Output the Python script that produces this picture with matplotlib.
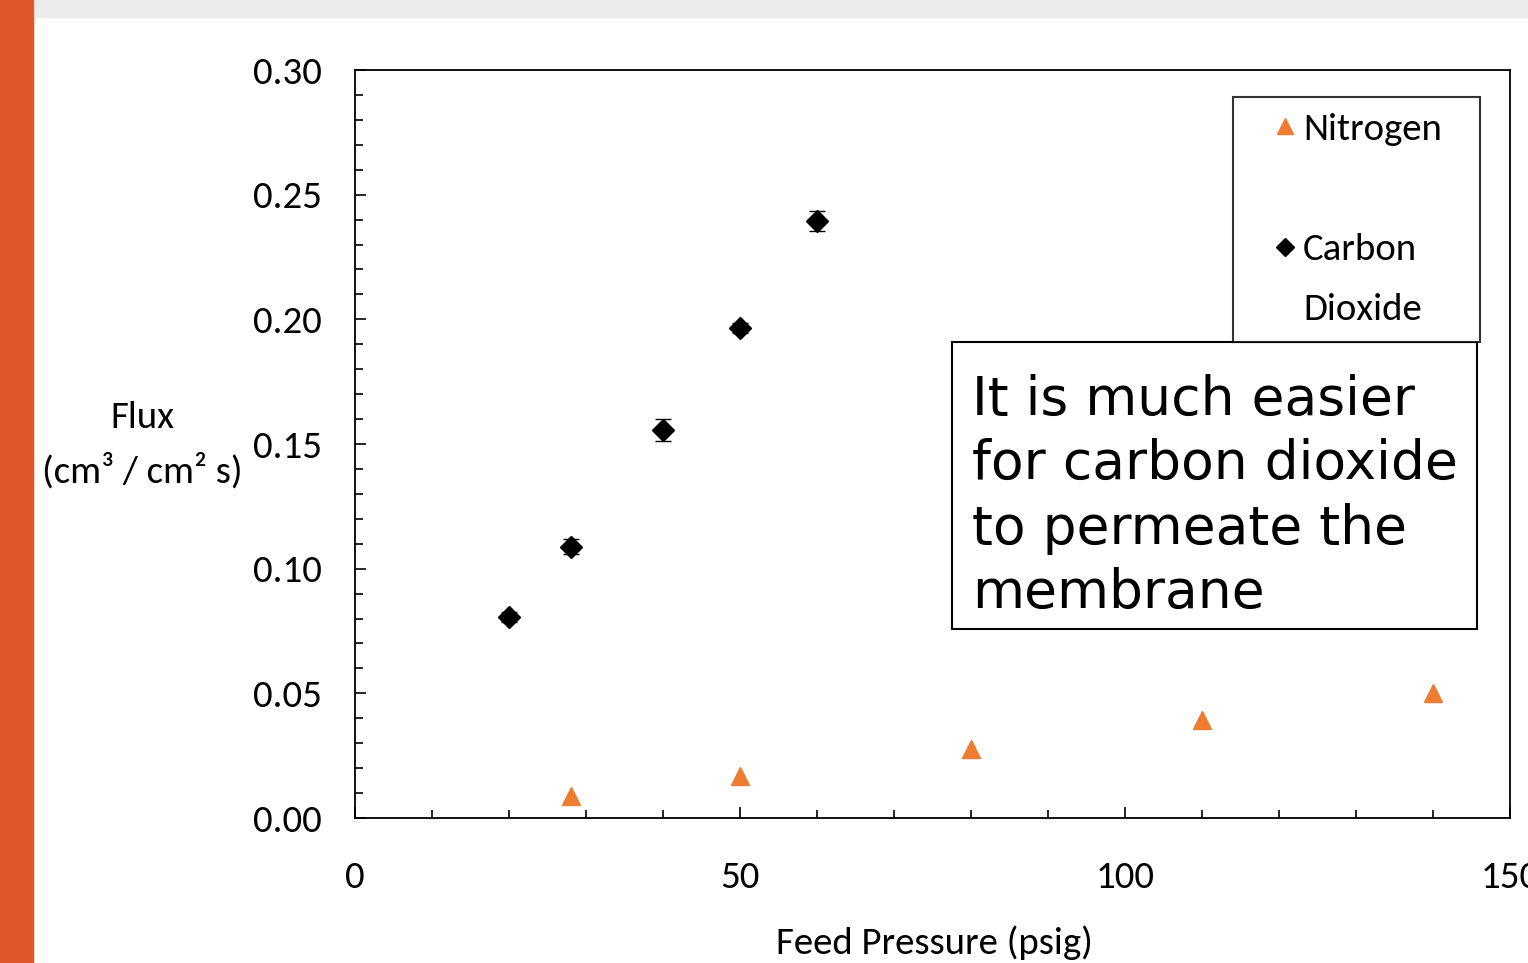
import matplotlib
matplotlib.use("Agg")
import matplotlib.pyplot as plt
from matplotlib.patches import Rectangle
from matplotlib.lines import Line2D
from matplotlib.ticker import MultipleLocator
from matplotlib import font_manager

# data
co2_p = [20, 28, 40, 50, 60]
co2_flux = [0.0805, 0.1087, 0.1557, 0.1965, 0.2395]
co2_err = [0.002, 0.003, 0.0045, 0.002, 0.004]
n2_p = [28, 50, 80, 110, 140]
n2_flux = [0.0088, 0.0168, 0.0277, 0.0393, 0.0501]
n2_err = [0.001, 0.001, 0.001, 0.001, 0.001]

xticks = [0, 50, 100, 150]
yticks = [0.00, 0.05, 0.10, 0.15, 0.20, 0.25, 0.30]

# narrow, Calibri-like face if there is one
names = {f.name for f in font_manager.fontManager.ttflist}
narrow = "DejaVu Sans"
for cand in ["Carlito", "Liberation Sans Narrow", "Roboto Condensed", "Roboto"]:
    if cand in names:
        narrow = cand
        break
fs = 28

fig = plt.figure(figsize=(15.28, 9.63), dpi=100)
fig.patches.append(Rectangle((0, 0), 33/1528, 1, transform=fig.transFigure,
                             color="#E1552B", zorder=0))
fig.patches.append(Rectangle((35/1528, 1 - 17/963), 1, 17/963, transform=fig.transFigure,
                             color="#EBEBEB", zorder=0))

ax = fig.add_axes([355/1528, 145/963, 1155/1528, 748/963])

ax.errorbar(n2_p, n2_flux, yerr=n2_err, fmt="^", color="#ED7D31", ms=13,
            ecolor="#777777", elinewidth=1, capsize=3, zorder=3)
ax.errorbar(co2_p, co2_flux, yerr=co2_err, fmt="D", color="black", ms=11,
            ecolor="black", elinewidth=1.2, capsize=6, zorder=3)

ax.set_xlim(0, 150)
ax.set_ylim(0, 0.30)
ax.set_xticks(xticks)
ax.set_yticks(yticks)
ax.xaxis.set_minor_locator(MultipleLocator(10))
ax.yaxis.set_minor_locator(MultipleLocator(0.01))
ax.set_yticklabels(["%.2f" % v for v in yticks])
ax.tick_params(which="both", direction="in", width=1.2, color="black")
ax.tick_params(which="major", length=8)
ax.tick_params(which="minor", length=6)
ax.tick_params(axis="x", which="major", pad=31, labelsize=fs)
ax.tick_params(axis="y", which="major", pad=24, labelsize=fs)
for lab in ax.get_xticklabels() + ax.get_yticklabels():
    lab.set_fontfamily(narrow)
for s in ax.spines.values():
    s.set_linewidth(1.3)
    s.set_color("black")

ax.set_xlabel("Feed Pressure (psig)", fontsize=fs, family=narrow)
ax.xaxis.set_label_coords(0.502, -0.167)
ax.xaxis.label.set_va("center")
ax.set_ylabel("Flux\n(cm³ / cm² s)", fontsize=fs, family=narrow, rotation=0,
              ha="center", va="center", multialignment="center", linespacing=1.6)
ax.yaxis.set_label_coords(-0.184, 0.499)

handles = [
    Line2D([], [], marker="^", ls="none", color="#ED7D31", ms=12),
    Line2D([], [], ls="none"),
    Line2D([], [], marker="D", ls="none", color="black", ms=9),
    Line2D([], [], ls="none"),
]
labels = ["Nitrogen", " ", "Carbon", "Dioxide"]
leg = ax.legend(handles, labels, loc="upper left",
                bbox_to_anchor=(0.760, 0.636, 0.214, 0.328), mode="expand",
                borderaxespad=0, frameon=True, fancybox=False, handlelength=1.85,
                handletextpad=-0.45, labelspacing=0.69, borderpad=0.41,
                prop={"family": narrow, "size": fs})
leg.get_frame().set_edgecolor("black")
leg.get_frame().set_linewidth(1.5)

# note box
ax.add_patch(Rectangle((0.5169, 0.2527), 0.4545, 0.3837, transform=ax.transAxes,
                       fc="white", ec="black", lw=1.5, zorder=5))
ax.text(0.534, 0.5936, "It is much easier\nfor carbon dioxide\nto permeate the\nmembrane",
        transform=ax.transAxes, ha="left", va="top", fontsize=38.5, family="DejaVu Sans",
        linespacing=1.3, zorder=6)

fig.savefig("out.png", dpi=100)
